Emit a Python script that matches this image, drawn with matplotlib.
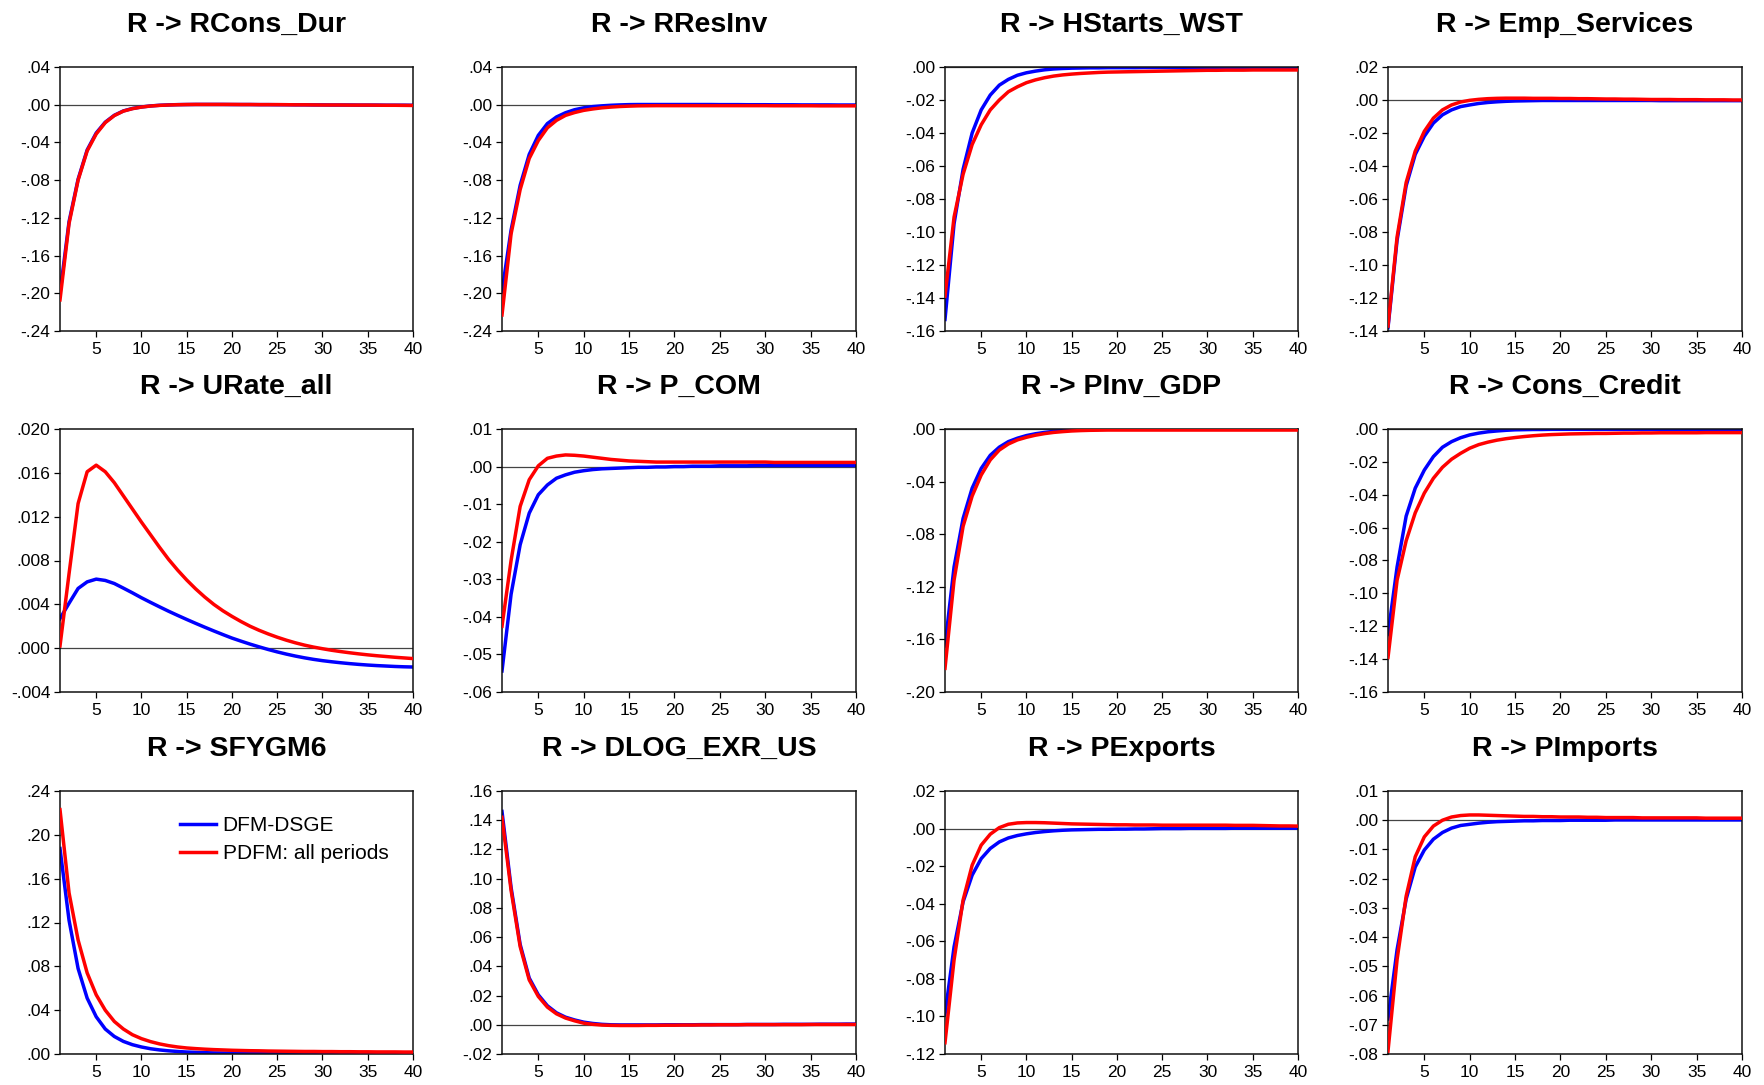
import numpy as np
import matplotlib
matplotlib.use("Agg")
import matplotlib.pyplot as plt

plt.rcParams['font.family'] = ['Liberation Sans', 'DejaVu Sans']

horizon = list(range(1, 41))

titles = ["R -> RCons_Dur", "R -> RResInv", "R -> HStarts_WST", "R -> Emp_Services",
          "R -> URate_all", "R -> P_COM", "R -> PInv_GDP", "R -> Cons_Credit",
          "R -> SFYGM6", "R -> DLOG_EXR_US", "R -> PExports", "R -> PImports"]

series_names = ["DFM-DSGE", "PDFM: all periods"]

# DFM-DSGE (blue)
dfm_rcons_dur = [-0.200, -0.124, -0.079, -0.048, -0.030, -0.0185, -0.0112, -0.0066, -0.0040, -0.0024,
                 -0.0013, -0.0006, -0.0002, 0.0001, 0.0002, 0.0003, 0.0003, 0.0003, 0.0003, 0.0002,
                 0.0002, 0.0002, 0.0001, 0.0001, 0.0000, 0.0000, -0.0001, -0.0001, -0.0002, -0.0002,
                 -0.0003, -0.0003, -0.0003, -0.0004, -0.0004, -0.0004, -0.0005, -0.0005, -0.0005, -0.0006]
dfm_rresinv = [-0.198, -0.133, -0.0855, -0.0527, -0.0325, -0.0200, -0.0130, -0.0085, -0.0053, -0.0033,
               -0.0020, -0.0012, -0.0006, -0.0002, 0.0001, 0.0002, 0.0002, 0.0002, 0.0002, 0.0002,
               0.0002, 0.0002, 0.0002, 0.0002, 0.0001, 0.0001, 0.0001, 0.0000, 0.0000, 0.0000,
               -0.0001, -0.0001, -0.0001, -0.0002, -0.0002, -0.0002, -0.0002, -0.0003, -0.0003, -0.0003]
dfm_hstarts = [-0.153, -0.095, -0.062, -0.040, -0.026, -0.017, -0.011, -0.0075, -0.0050, -0.0035,
               -0.0025, -0.0017, -0.0012, -0.0009, -0.0007, -0.0006, -0.0005, -0.0005, -0.0004, -0.0004,
               -0.0004, -0.0004, -0.0003, -0.0003, -0.0003, -0.0003, -0.0003, -0.0003, -0.0003, -0.0003,
               -0.0002, -0.0002, -0.0002, -0.0002, -0.0002, -0.0002, -0.0002, -0.0002, -0.0002, -0.0002]
dfm_emp_services = [-0.138, -0.085, -0.052, -0.033, -0.022, -0.014, -0.009, -0.006, -0.004, -0.003,
                    -0.0021, -0.0015, -0.0011, -0.0008, -0.0006, -0.0005, -0.0004, -0.0003, -0.0003, -0.0003,
                    -0.0003, -0.0003, -0.0003, -0.0003, -0.0003, -0.0003, -0.0003, -0.0003, -0.0003, -0.0003,
                    -0.0004, -0.0004, -0.0004, -0.0004, -0.0004, -0.0004, -0.0004, -0.0004, -0.0004, -0.0004]
dfm_urate = [0.0027, 0.0041, 0.00545, 0.00605, 0.0063, 0.00618, 0.0059, 0.00548, 0.00505, 0.0046,
             0.00418, 0.00377, 0.00337, 0.00299, 0.00262, 0.00226, 0.00191, 0.00157, 0.00124, 0.00092,
             0.00064, 0.00037, 0.00012, -0.00012, -0.00034, -0.00054, -0.00072, -0.00088, -0.00102, -0.00114,
             -0.00124, -0.00133, -0.00141, -0.00148, -0.00154, -0.00159, -0.00163, -0.00167, -0.0017, -0.00172]
dfm_p_com = [-0.0544, -0.034, -0.0208, -0.0124, -0.0075, -0.0049, -0.0031, -0.0022, -0.0015, -0.0011,
             -0.0008, -0.0006, -0.0005, -0.0004, -0.0003, -0.0002, -0.0002, -0.0001, -0.0001, 0.0000,
             0.0000, 0.0001, 0.0001, 0.0001, 0.0002, 0.0002, 0.0002, 0.0002, 0.0003, 0.0003,
             0.0003, 0.0003, 0.0003, 0.0003, 0.0003, 0.0003, 0.0003, 0.0003, 0.0003, 0.0003]
dfm_pinv_gdp = [-0.165, -0.105, -0.068, -0.045, -0.030, -0.020, -0.0138, -0.0096, -0.0070, -0.0050,
                -0.0036, -0.0026, -0.0018, -0.0012, -0.0008, -0.0005, -0.0003, -0.0002, -0.0002, -0.0002,
                -0.0002, -0.0002, -0.0002, -0.0002, -0.0002, -0.0002, -0.0002, -0.0002, -0.0002, -0.0002,
                -0.0002, -0.0002, -0.0002, -0.0002, -0.0002, -0.0002, -0.0002, -0.0002, -0.0002, -0.0002]
dfm_cons_credit = [-0.125, -0.084, -0.053, -0.036, -0.025, -0.0168, -0.0111, -0.0077, -0.0053, -0.0036,
                   -0.0025, -0.0017, -0.0012, -0.0008, -0.0005, -0.0004, -0.0003, -0.0003, -0.0002, -0.0002,
                   -0.0002, -0.0002, -0.0002, -0.0002, -0.0002, -0.0002, -0.0002, -0.0002, -0.0002, -0.0002,
                   -0.0002, -0.0002, -0.0002, -0.0002, -0.0002, -0.0002, -0.0002, -0.0002, -0.0002, -0.0002]
dfm_sfygm6 = [0.1875, 0.122, 0.078, 0.051, 0.034, 0.0228, 0.0160, 0.0115, 0.0085, 0.0064,
              0.0048, 0.0037, 0.0029, 0.0023, 0.0018, 0.0015, 0.0012, 0.0010, 0.0009, 0.0008,
              0.0007, 0.0007, 0.0006, 0.0006, 0.0005, 0.0005, 0.0005, 0.0004, 0.0004, 0.0004,
              0.0004, 0.0004, 0.0003, 0.0003, 0.0003, 0.0003, 0.0003, 0.0003, 0.0003, 0.0003]
dfm_dlog_exr = [0.146, 0.094, 0.055, 0.032, 0.0205, 0.013, 0.0082, 0.0052, 0.0033, 0.0018,
                0.0009, 0.0003, 0.0000, -0.0001, -0.0001, -0.0001, -0.0001, -0.0001, 0.0000, 0.0000,
                0.0000, 0.0000, 0.0001, 0.0001, 0.0001, 0.0001, 0.0001, 0.0002, 0.0002, 0.0002,
                0.0002, 0.0003, 0.0003, 0.0003, 0.0003, 0.0004, 0.0004, 0.0004, 0.0005, 0.0005]
dfm_pexports = [-0.099, -0.063, -0.039, -0.0248, -0.016, -0.0106, -0.0071, -0.0050, -0.0037, -0.0028,
                -0.0021, -0.0016, -0.0012, -0.0009, -0.0007, -0.0006, -0.0005, -0.0004, -0.0004, -0.0003,
                -0.0003, -0.0002, -0.0002, -0.0001, 0.0000, 0.0000, 0.0000, 0.0001, 0.0001, 0.0001,
                0.0001, 0.0001, 0.0002, 0.0002, 0.0002, 0.0002, 0.0002, 0.0002, 0.0002, 0.0002]
dfm_pimports = [-0.068, -0.0443, -0.027, -0.016, -0.0102, -0.0065, -0.0042, -0.0027, -0.0018, -0.0014,
                -0.0010, -0.0007, -0.0005, -0.0004, -0.0003, -0.0002, -0.0002, -0.0001, -0.0001, -0.0001,
                0.0000, 0.0000, 0.0000, 0.0000, 0.0000, 0.0001, 0.0001, 0.0001, 0.0001, 0.0001,
                0.0001, 0.0001, 0.0001, 0.0001, 0.0001, 0.0001, 0.0001, 0.0001, 0.0001, 0.0001]

# PDFM: all periods (red)
pdfm_rcons_dur = [-0.207, -0.126, -0.080, -0.049, -0.031, -0.019, -0.0115, -0.0068, -0.0042, -0.0025,
                  -0.0014, -0.0007, -0.0003, 0.0000, 0.0002, 0.0003, 0.0003, 0.0003, 0.0003, 0.0003,
                  0.0002, 0.0002, 0.0001, 0.0001, 0.0001, 0.0000, -0.0001, -0.0001, -0.0002, -0.0003,
                  -0.0003, -0.0003, -0.0004, -0.0004, -0.0004, -0.0005, -0.0006, -0.0006, -0.0007, -0.0008]
pdfm_rresinv = [-0.223, -0.137, -0.090, -0.057, -0.038, -0.0245, -0.0166, -0.0113, -0.0083, -0.0060,
                -0.0045, -0.0033, -0.0025, -0.0019, -0.0015, -0.0012, -0.0011, -0.0010, -0.0010, -0.0010,
                -0.0010, -0.0010, -0.0010, -0.0010, -0.0010, -0.0010, -0.0010, -0.0010, -0.0010, -0.0010,
                -0.0011, -0.0011, -0.0011, -0.0011, -0.0011, -0.0012, -0.0012, -0.0012, -0.0012, -0.0012]
pdfm_hstarts = [-0.139, -0.091, -0.065, -0.047, -0.035, -0.026, -0.020, -0.015, -0.012, -0.0095,
                -0.0078, -0.0065, -0.0055, -0.0048, -0.0043, -0.0039, -0.0036, -0.0033, -0.0031, -0.0030,
                -0.0029, -0.0028, -0.0027, -0.0026, -0.0025, -0.0024, -0.0023, -0.0022, -0.0021, -0.0020,
                -0.0020, -0.0019, -0.0019, -0.0019, -0.0018, -0.0018, -0.0018, -0.0018, -0.0018, -0.0018]
pdfm_emp_services = [-0.137, -0.083, -0.050, -0.031, -0.019, -0.011, -0.006, -0.003, -0.0012, -0.0002,
                     0.0004, 0.0008, 0.0010, 0.0011, 0.0011, 0.0011, 0.0010, 0.0010, 0.0010, 0.0009,
                     0.0009, 0.0008, 0.0008, 0.0007, 0.0006, 0.0006, 0.0005, 0.0005, 0.0004, 0.0003,
                     0.0003, 0.0003, 0.0002, 0.0002, 0.0002, 0.0001, 0.0001, 0.0001, 0.0000, 0.0000]
pdfm_urate = [0.0002, 0.0068, 0.0132, 0.0161, 0.0167, 0.0161, 0.0151, 0.0139, 0.0127, 0.0115,
              0.01035, 0.0092, 0.0081, 0.00712, 0.00622, 0.0054, 0.00466, 0.00399, 0.00341, 0.0029,
              0.00243, 0.0020, 0.00163, 0.0013, 0.0010, 0.00073, 0.00049, 0.00028, 0.0001, -0.00005,
              -0.00019, -0.00031, -0.00042, -0.00052, -0.00061, -0.00069, -0.00076, -0.00083, -0.00089, -0.00095]
pdfm_p_com = [-0.0425, -0.025, -0.0106, -0.0035, 0.0002, 0.0022, 0.0028, 0.0031, 0.0030, 0.0028,
              0.0025, 0.0022, 0.0019, 0.0017, 0.0015, 0.0014, 0.0013, 0.0012, 0.0012, 0.0012,
              0.0012, 0.0012, 0.0012, 0.0012, 0.0012, 0.0012, 0.0012, 0.0012, 0.0012, 0.0012,
              0.0011, 0.0011, 0.0011, 0.0011, 0.0011, 0.0011, 0.0011, 0.0011, 0.0011, 0.0011]
pdfm_pinv_gdp = [-0.182, -0.115, -0.074, -0.051, -0.035, -0.0235, -0.016, -0.0114, -0.0083, -0.0063,
                 -0.0047, -0.0035, -0.0026, -0.0020, -0.0015, -0.0012, -0.0010, -0.0009, -0.0008, -0.0008,
                 -0.0008, -0.0008, -0.0008, -0.0008, -0.0008, -0.0008, -0.0008, -0.0008, -0.0008, -0.0008,
                 -0.0008, -0.0008, -0.0008, -0.0008, -0.0008, -0.0008, -0.0008, -0.0008, -0.0008, -0.0008]
pdfm_cons_credit = [-0.139, -0.092, -0.068, -0.051, -0.039, -0.030, -0.0233, -0.0184, -0.0148, -0.0117,
                    -0.0095, -0.0080, -0.0068, -0.0059, -0.0052, -0.0046, -0.0041, -0.0037, -0.0034, -0.0032,
                    -0.0030, -0.0029, -0.0028, -0.0027, -0.0027, -0.0026, -0.0025, -0.0025, -0.0024, -0.0024,
                    -0.0023, -0.0023, -0.0023, -0.0023, -0.0023, -0.0022, -0.0022, -0.0022, -0.0022, -0.0022]
pdfm_sfygm6 = [0.223, 0.147, 0.104, 0.074, 0.054, 0.040, 0.0297, 0.0228, 0.0176, 0.0140,
               0.0113, 0.0092, 0.0076, 0.0064, 0.0055, 0.0049, 0.0044, 0.0040, 0.0037, 0.0034,
               0.0032, 0.0030, 0.0029, 0.0027, 0.0026, 0.0025, 0.0024, 0.0023, 0.0023, 0.0022,
               0.0022, 0.0021, 0.0021, 0.0020, 0.0020, 0.0019, 0.0019, 0.0019, 0.0018, 0.0018]
pdfm_dlog_exr = [0.142, 0.092, 0.0535, 0.0307, 0.0194, 0.0121, 0.0075, 0.0046, 0.0027, 0.0011,
                 0.0003, -0.0002, -0.0004, -0.0005, -0.0005, -0.0005, -0.0004, -0.0004, -0.0003, -0.0003,
                 -0.0002, -0.0002, -0.0001, -0.0001, 0.0000, 0.0000, 0.0000, 0.0001, 0.0001, 0.0001,
                 0.0001, 0.0001, 0.0001, 0.0001, 0.0002, 0.0002, 0.0002, 0.0002, 0.0002, 0.0002]
pdfm_pexports = [-0.114, -0.070, -0.038, -0.0195, -0.0088, -0.0030, 0.0005, 0.0023, 0.0030, 0.0032,
                 0.0032, 0.0031, 0.0029, 0.0027, 0.0025, 0.0024, 0.0023, 0.0022, 0.0021, 0.0020,
                 0.0020, 0.0019, 0.0019, 0.0019, 0.0018, 0.0018, 0.0018, 0.0018, 0.0018, 0.0018,
                 0.0018, 0.0018, 0.0017, 0.0017, 0.0017, 0.0016, 0.0015, 0.0014, 0.0014, 0.0013]
pdfm_pimports = [-0.079, -0.0477, -0.026, -0.0125, -0.0057, -0.0020, 0.0000, 0.0011, 0.0016, 0.0018,
                 0.0018, 0.0017, 0.0016, 0.0015, 0.0014, 0.0013, 0.0013, 0.0012, 0.0012, 0.0011,
                 0.0011, 0.0011, 0.0010, 0.0010, 0.0009, 0.0009, 0.0009, 0.0009, 0.0008, 0.0008,
                 0.0008, 0.0008, 0.0008, 0.0008, 0.0008, 0.0007, 0.0007, 0.0007, 0.0007, 0.0007]

dfm_all = [dfm_rcons_dur, dfm_rresinv, dfm_hstarts, dfm_emp_services,
           dfm_urate, dfm_p_com, dfm_pinv_gdp, dfm_cons_credit,
           dfm_sfygm6, dfm_dlog_exr, dfm_pexports, dfm_pimports]
pdfm_all = [pdfm_rcons_dur, pdfm_rresinv, pdfm_hstarts, pdfm_emp_services,
            pdfm_urate, pdfm_p_com, pdfm_pinv_gdp, pdfm_cons_credit,
            pdfm_sfygm6, pdfm_dlog_exr, pdfm_pexports, pdfm_pimports]

# y-axis ticks for each panel
y_ticks = [
    [-0.24, -0.20, -0.16, -0.12, -0.08, -0.04, 0.00, 0.04],
    [-0.24, -0.20, -0.16, -0.12, -0.08, -0.04, 0.00, 0.04],
    [-0.16, -0.14, -0.12, -0.10, -0.08, -0.06, -0.04, -0.02, 0.00],
    [-0.14, -0.12, -0.10, -0.08, -0.06, -0.04, -0.02, 0.00, 0.02],
    [-0.004, 0.000, 0.004, 0.008, 0.012, 0.016, 0.020],
    [-0.06, -0.05, -0.04, -0.03, -0.02, -0.01, 0.00, 0.01],
    [-0.20, -0.16, -0.12, -0.08, -0.04, 0.00],
    [-0.16, -0.14, -0.12, -0.10, -0.08, -0.06, -0.04, -0.02, 0.00],
    [0.00, 0.04, 0.08, 0.12, 0.16, 0.20, 0.24],
    [-0.02, 0.00, 0.02, 0.04, 0.06, 0.08, 0.10, 0.12, 0.14, 0.16],
    [-0.12, -0.10, -0.08, -0.06, -0.04, -0.02, 0.00, 0.02],
    [-0.08, -0.07, -0.06, -0.05, -0.04, -0.03, -0.02, -0.01, 0.00, 0.01],
]
y_decimals = [2, 2, 2, 2, 3, 2, 2, 2, 2, 2, 2, 2]
x_ticks = [5, 10, 15, 20, 25, 30, 35, 40]


def fmt(v, d):
    s = f"{abs(v):.{d}f}"
    if s.startswith("0"):
        s = s[1:]
    if v < 0 and float(s) != 0:
        s = "-" + s
    return s


W, H = 1764, 1085
fig = plt.figure(figsize=(W / 100, H / 100), dpi=100)

col_left = [60, 502, 945, 1388]
col_right = [413, 856, 1298, 1742]
row_top = [67, 429, 791]
row_bot = [331, 692, 1054]

BLUE = '#0000FF'
RED = '#FF0000'

for i in range(12):
    r, c = divmod(i, 4)
    l, rt = col_left[c], col_right[c]
    t, b = row_top[r], row_bot[r]
    ax = fig.add_axes([l / W, 1 - b / H, (rt - l) / W, (b - t) / H])
    ticks = y_ticks[i]
    ax.set_ylim(ticks[0], ticks[-1])
    ax.set_xlim(1, 40)
    ax.axhline(0, color='#444444', lw=0.9, zorder=1)
    ax.plot(horizon, dfm_all[i], color=BLUE, lw=2.5, zorder=2, label=series_names[0],
            solid_joinstyle='round')
    ax.plot(horizon, pdfm_all[i], color=RED, lw=2.5, zorder=3, label=series_names[1],
            solid_joinstyle='round')
    ax.set_yticks(ticks)
    ax.set_yticklabels([fmt(v, y_decimals[i]) for v in ticks])
    ax.set_xticks(x_ticks)
    ax.set_xticklabels([str(v) for v in x_ticks])
    ax.tick_params(direction='out', length=4.3, width=0.9, labelsize=12.5, pad=2.5,
                   colors='#000000', top=False, right=False)
    ax.tick_params(axis='x', pad=3.5)
    for sp in ax.spines.values():
        sp.set_linewidth(1.1)
        sp.set_color('#111111')
    ax.set_title(titles[i], fontsize=20.5, fontweight='bold', pad=25)
    if i == 8:
        ax.legend(loc='upper left', bbox_to_anchor=(0.34, 0.905), frameon=False,
                  fontsize=15, handlelength=1.75, handletextpad=0.3, labelspacing=0.45,
                  borderpad=0, borderaxespad=0)

fig.savefig("out.png", dpi=100)
